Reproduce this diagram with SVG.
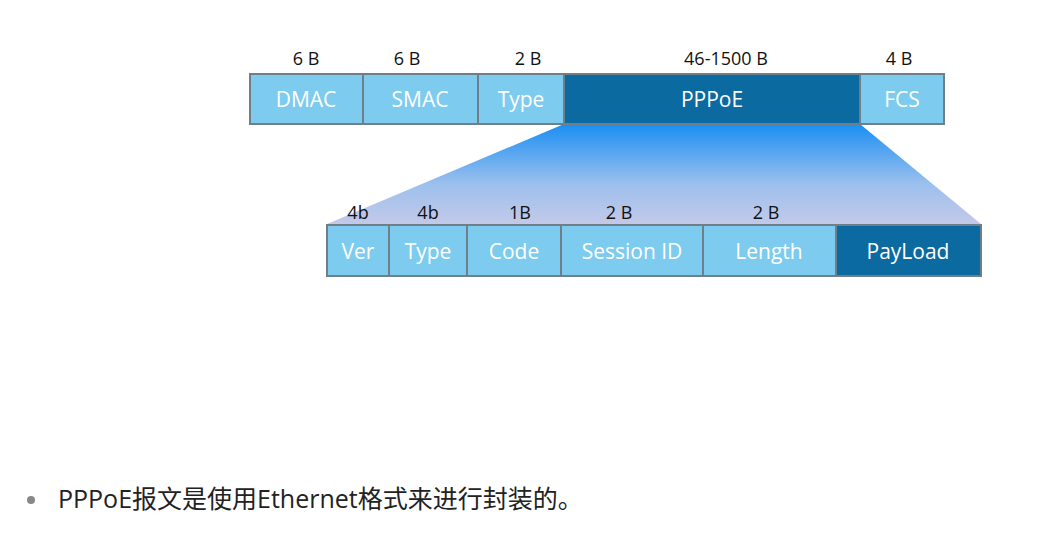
<svg xmlns="http://www.w3.org/2000/svg" width="1057" height="534" viewBox="0 0 1057 534">
<style>
.l{fill:#7dcbee;stroke:#6f7f8a;stroke-width:2}
.d{fill:#0b6aa0;stroke:#6f7f8a;stroke-width:2}
.t{font-family:"Open Sans","Liberation Sans",sans-serif;font-size:21px;fill:#fff;text-anchor:middle}
.s{font-family:"Open Sans","Liberation Sans",sans-serif;font-size:18px;fill:#111;text-anchor:middle}
</style>
<defs><linearGradient id="g" x1="0" y1="0" x2="0" y2="1"><stop offset="0" stop-color="#1a8ff2"/><stop offset="0.6" stop-color="#9cc0ee"/><stop offset="1" stop-color="#c3c9e8"/></linearGradient></defs>
<rect width="1057" height="534" fill="#fff"/>
<g id="connectors"><polygon points="564,124 860,124 981,224 327,224" fill="url(#g)"/></g>
<g id="dmac"><rect class="l" x="250" y="74" width="113" height="50"/><text class="t" x="306" y="107">DMAC</text><text class="s" x="306" y="65">6 B</text></g>
<g id="smac"><rect class="l" x="363" y="74" width="115" height="50"/><text class="t" x="420" y="107">SMAC</text><text class="s" x="407" y="65">6 B</text></g>
<g id="type"><rect class="l" x="478" y="74" width="86" height="50"/><text class="t" x="521" y="107">Type</text><text class="s" x="528" y="65">2 B</text></g>
<g id="pppoe"><rect class="d" x="564" y="74" width="296" height="50"/><text class="t" x="712" y="107">PPPoE</text><text class="s" x="726" y="65">46-1500 B</text></g>
<g id="fcs"><rect class="l" x="860" y="74" width="84" height="50"/><text class="t" x="902" y="107">FCS</text><text class="s" x="899" y="65">4 B</text></g>
<g id="ver"><rect class="l" x="327" y="225" width="62" height="51"/><text class="t" x="358" y="259">Ver</text><text class="s" x="358" y="219">4b</text></g>
<g id="type2"><rect class="l" x="389" y="225" width="78" height="51"/><text class="t" x="428" y="259">Type</text><text class="s" x="428" y="219">4b</text></g>
<g id="code"><rect class="l" x="467" y="225" width="94" height="51"/><text class="t" x="514" y="259">Code</text><text class="s" x="520" y="219">1B</text></g>
<g id="session"><rect class="l" x="561" y="225" width="142" height="51"/><text class="t" x="632" y="259">Session ID</text><text class="s" x="619" y="219">2 B</text></g>
<g id="length"><rect class="l" x="703" y="225" width="133" height="51"/><text class="t" x="769" y="259">Length</text><text class="s" x="766" y="219">2 B</text></g>
<g id="payload"><rect class="d" x="836" y="225" width="145" height="51"/><text class="t" x="908" y="259">PayLoad</text></g>
<g id="note"><circle cx="31" cy="500" r="4" fill="#888"/><text x="58" y="508" font-family="'Open Sans','Noto Sans CJK SC',sans-serif" font-size="25" fill="#222">PPPoE报文是使用Ethernet格式来进行封装的。</text></g>
</svg>
